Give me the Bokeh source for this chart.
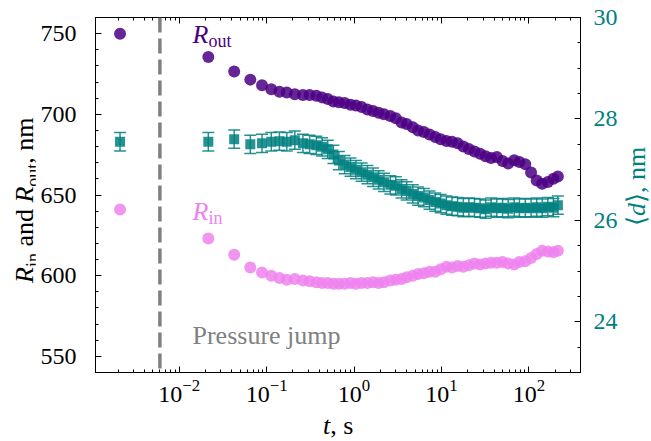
from bokeh.plotting import figure
from bokeh.models import (Range1d, LinearAxis, LogAxis, SingleIntervalTicker, LogTicker,
                          Span, Label, CustomJSTickFormatter, Div)
from bokeh.layouts import row, column
from bokeh.embed import file_html
from bokeh.resources import INLINE

# ---- data ----
t = [0.0021, 0.0215, 0.0425, 0.065, 0.0885, 0.113, 0.14, 0.17, 0.21, 0.26, 0.31, 0.37,
     0.43, 0.50, 0.58, 0.67, 0.78, 0.91, 1.05, 1.22, 1.42, 1.65, 1.91, 2.2, 2.6, 3.0,
     3.5, 4.0, 4.7, 5.4, 6.3, 7.3, 8.5, 9.8, 11.4, 13.2, 15.3, 17.8, 20.6, 23.9, 27.7,
     32, 37, 43, 50, 58, 68, 78, 91, 106, 123, 142, 165, 191, 215]

r_out = [750, 735.5, 726.5, 721.5, 718, 715.5, 714, 713.5, 712.5, 712, 712, 711.5,
         710.5, 709.5, 708, 707.5, 707, 706, 705.5, 704.5, 703, 702, 701, 700, 699, 697.5,
         695, 694, 692, 690, 689, 687.5, 686, 684.5, 683.5, 683, 682, 680, 678.5, 677, 675.5,
         674, 673, 673.5, 671, 669.5, 671.5, 670.5, 669, 664, 659, 657, 658, 660, 661.5]

r_in = [641, 623, 613, 605, 602, 600, 598.5, 597.5, 598, 597, 596.5, 596,
        595.5, 595.5, 595, 595, 595, 595.5, 595, 595.5, 595.5, 596, 595.5, 596, 597, 597.5,
        598, 599, 600, 601, 601.5, 602.5, 602.5, 604, 605.5, 605, 606, 605.5, 606.5, 607.5, 607,
        607.5, 608, 608, 608.5, 607.5, 607, 608.5, 609, 611, 613.5, 615.5, 615, 614.5, 615.5]

d_mean = [27.55, 27.55, 27.6, 27.5, 27.52, 27.55, 27.56, 27.55, 27.58, 27.52, 27.5, 27.48,
          27.45, 27.4, 27.3, 27.18, 27.1, 27.05, 27.0, 26.95, 26.9, 26.85, 26.8, 26.75, 26.7, 26.68,
          26.62, 26.58, 26.52, 26.48, 26.45, 26.4, 26.36, 26.33, 26.3, 26.28, 26.27, 26.25, 26.26,
          26.25, 26.24, 26.22, 26.26, 26.24, 26.25, 26.23, 26.26, 26.24, 26.25, 26.24, 26.26, 26.24,
          26.27, 26.25, 26.3]

d_err = [0.18, 0.18, 0.18, 0.18, 0.18, 0.18, 0.18, 0.18, 0.18, 0.18, 0.18, 0.18,
         0.18, 0.18, 0.18, 0.18, 0.18, 0.18, 0.18, 0.18, 0.18, 0.18, 0.18, 0.18, 0.18, 0.18,
         0.18, 0.18, 0.18, 0.18, 0.18, 0.18, 0.18, 0.18, 0.18, 0.18, 0.18, 0.18, 0.18,
         0.18, 0.18, 0.18, 0.18, 0.18, 0.18, 0.18, 0.18, 0.18, 0.18, 0.18, 0.18, 0.18,
         0.18, 0.18, 0.18]

jump_time = 0.006

x_limits = (0.0011, 390)
left_limits = (540, 760)
right_limits = (23, 30)

# ---- styles ----
FONT = "Liberation Serif"
C_OUT = "#4B0082"
C_IN = "#EE82EE"
C_D = "#008080"
ALPHA = 0.85
TICK_FS = "24px"
LAB_FS = "26px"
SUB_FS = "18px"

W, H = 651, 441
LEFT_W, RIGHT_W, BOTTOM_H = 35, 31, 26
FIG_W = W - LEFT_W - RIGHT_W          # 585
FIG_H = H - BOTTOM_H                  # 415
FRAME_L, FRAME_R, FRAME_T, FRAME_B = 95, 582, 17, 372   # page pixels
BL = FRAME_L - LEFT_W
BR = (LEFT_W + FIG_W) - FRAME_R
BT = FRAME_T
BB = FIG_H - FRAME_B

p = figure(width=FIG_W, height=FIG_H, x_axis_type="log",
           x_range=Range1d(*x_limits), y_range=Range1d(*left_limits),
           output_backend="svg", toolbar_location=None,
           min_border_left=BL, min_border_right=BR, min_border_top=BT, min_border_bottom=BB)
p.extra_y_ranges = {"d": Range1d(*right_limits)}
p.grid.visible = False
p.outline_line_color = "black"
p.outline_line_width = 1
p.background_fill_color = "white"
p.border_fill_color = "white"


def style_axis(ax, color="black"):
    ax.major_tick_in = 6
    ax.major_tick_out = 0
    ax.minor_tick_in = 3
    ax.minor_tick_out = 0
    ax.axis_line_color = "black"
    ax.major_tick_line_color = "black"
    ax.minor_tick_line_color = "black"
    ax.major_label_text_font = FONT
    ax.major_label_text_color = color
    ax.major_label_text_font_size = TICK_FS
    ax.major_label_standoff = 13


# bottom log axis
xa = p.xaxis[0]
xa.ticker = LogTicker(num_minor_ticks=10)
style_axis(xa)
xa.major_label_standoff = 7

# top log axis (ticks only)
top = LogAxis(ticker=LogTicker(num_minor_ticks=10),
              formatter=CustomJSTickFormatter(code="return ''"))
style_axis(top)
top.major_label_text_font_size = "2px"
top.major_label_standoff = 0
p.add_layout(top, "above")

# left axis
ya = p.yaxis[0]
ya.ticker = SingleIntervalTicker(interval=50, num_minor_ticks=5)
style_axis(ya)
ya.major_label_standoff = 19

# right axis
ra = LinearAxis(y_range_name="d", ticker=SingleIntervalTicker(interval=2, num_minor_ticks=4))
style_axis(ra, color=C_D)
p.add_layout(ra, "right")

# pressure jump line
p.add_layout(Span(location=jump_time, dimension="height", line_color="#808080",
                  line_width=3.5, line_dash="15 6"))

# data
p.scatter(t, r_out, size=12, fill_color=C_OUT, fill_alpha=ALPHA, line_color=None)
p.scatter(t, r_in, size=12, fill_color=C_IN, fill_alpha=ALPHA, line_color=None)

lo = [m - e for m, e in zip(d_mean, d_err)]
hi = [m + e for m, e in zip(d_mean, d_err)]
p.segment(x0=t, y0=lo, x1=t, y1=hi, y_range_name="d", line_color=C_D, line_alpha=ALPHA, line_width=1.5)
p.scatter(t, lo, marker="dash", size=12, line_color=C_D, line_alpha=ALPHA, line_width=1.5, y_range_name="d")
p.scatter(t, hi, marker="dash", size=12, line_color=C_D, line_alpha=ALPHA, line_width=1.5, y_range_name="d")
p.scatter(t, d_mean, marker="square", size=10, fill_color=C_D, fill_alpha=ALPHA, line_color=None,
          y_range_name="d")

Y_FIX = 9  # empirical baseline correction for Label


def lab(text, xpx, ypx, size=LAB_FS, color="black", style="normal"):
    # xpx, ypx: page position of the text baseline start; Label screen units are frame-relative
    p.add_layout(Label(x=xpx - FRAME_L, y=FRAME_B - ypx + Y_FIX, x_units="screen", y_units="screen",
                       text=text, text_font=FONT, text_font_size=size, text_color=color,
                       text_font_style=style, text_align="left", text_baseline="alphabetic"))


# in-plot labels
lab("R", 192, 43, color=C_OUT, style="italic")
lab("out", 208, 49, size=SUB_FS, color=C_OUT)
lab("R", 192, 220, color=C_IN, style="italic")
lab("in", 208, 226, size=SUB_FS, color=C_IN)
lab("Pressure jump", 192, 344, color="#808080")

# ---- axis titles as HTML text (rotated where needed) ----
SPAN = ("position:absolute;white-space:nowrap;font-family:'Liberation Serif',serif;"
        "font-size:26px;line-height:26px;")
ROT = "transform:rotate(-90deg);transform-origin:0 0;"
SUB = '<sub style="font-size:18px;">{}</sub>'

left_html = ('<div style="position:relative;width:%dpx;height:%dpx;">'
             '<span style="%s%sleft:12px;top:283px;color:#000;">'
             '<i>R</i>%s and <i>R</i>%s, nm</span></div>'
             % (LEFT_W, H, SPAN, ROT, SUB.format("in"), SUB.format("out")))

right_html = ('<div style="position:relative;width:%dpx;height:%dpx;">'
              '<span style="%s%sleft:4px;top:226px;color:%s;">'
              '\u27e8<i>d</i>\u27e9, nm</span></div>'
              % (RIGHT_W, H, SPAN, ROT, C_D))

bottom_html = ('<div style="position:relative;width:%dpx;height:%dpx;">'
               '<span style="%sleft:%dpx;top:-2px;color:#000;"><i>t</i>, s</span></div>'
               % (FIG_W, BOTTOM_H, SPAN, 338 - LEFT_W - 15))

left_div = Div(text=left_html, width=LEFT_W, height=H, margin=0)
right_div = Div(text=right_html, width=RIGHT_W, height=H, margin=0)
bottom_div = Div(text=bottom_html, width=FIG_W, height=BOTTOM_H, margin=0)

layout = row(left_div, column(p, bottom_div, spacing=0), right_div, spacing=0)

open("out.html", "w").write(file_html(layout, INLINE))
